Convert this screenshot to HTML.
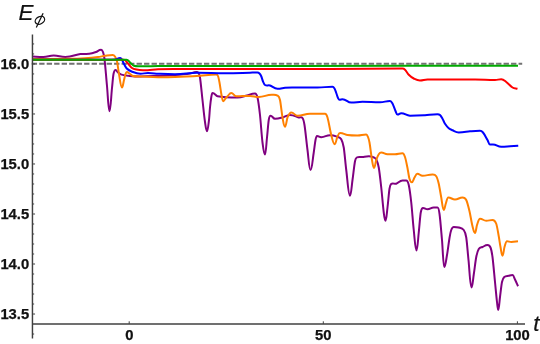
<!DOCTYPE html>
<html><head><meta charset="utf-8"><title>E_phi vs t</title>
<style>
html,body{margin:0;padding:0;background:#fff;}
body{width:540px;height:344px;overflow:hidden;position:relative;font-family:"Liberation Sans",sans-serif;}
svg{position:absolute;left:0;top:0;display:block;will-change:transform;}
text{font-family:"Liberation Sans",sans-serif;fill:#111;}
.tl{font-weight:bold;font-size:14.8px;stroke:#111;stroke-width:0.25px;}
.al{font-style:italic;font-size:22.4px;stroke:#111;stroke-width:0.2px;}
</style></head><body>
<svg width="540" height="344" viewBox="0 0 540 344">
<rect width="540" height="344" fill="#fff"/>
<line x1="31.7" y1="63.8" x2="522.2" y2="63.8" stroke="#727272" stroke-width="2" stroke-dasharray="5.35 2.14"/>
<path d="M32.50 56.40 C36.10 56.60 38.44 57.00 43.30 57.00 C47.98 57.00 49.02 55.50 53.70 55.50 C58.92 55.50 60.08 56.90 65.30 56.90 C72.09 56.90 75.37 54.74 80.40 54.10 C83.33 53.73 86.27 54.24 89.20 53.85 C91.47 53.54 93.73 52.77 96.00 52.00 C97.70 51.42 98.80 49.80 101.10 49.80 C101.95 49.80 102.37 50.30 103.00 52.00 C103.50 53.34 104.00 54.65 104.50 58.90 C105.33 65.98 106.17 77.28 107.00 86.00 C107.83 94.72 108.38 111.25 109.50 111.25 C110.62 111.25 111.17 95.76 112.00 88.00 C112.50 83.34 113.00 76.50 113.50 74.00 C114.20 70.50 114.66 70.00 115.60 70.00 C116.68 70.00 117.20 71.88 118.00 72.50 C119.17 73.41 120.33 74.26 121.50 74.60 C124.33 75.43 127.17 75.71 130.00 76.00 C133.33 76.34 135.50 76.50 140.00 76.50 C148.10 76.50 152.00 76.16 158.00 75.90 C163.67 75.66 169.33 75.42 175.00 75.00 C180.00 74.62 185.00 74.21 190.00 73.50 C192.08 73.21 193.44 72.00 196.25 72.00 C197.26 72.00 197.75 71.90 198.50 73.00 C199.00 73.73 199.50 74.12 200.00 77.50 C200.83 83.12 201.67 92.58 202.50 100.00 C203.33 107.42 204.17 116.21 205.00 122.00 C205.67 126.63 206.10 131.25 207.00 131.25 C207.90 131.25 208.33 125.28 209.00 120.00 C209.33 117.36 209.67 110.83 210.00 107.50 C210.43 103.17 210.87 99.51 211.30 97.00 C211.70 94.68 211.96 93.00 212.50 93.00 C214.75 93.00 215.83 95.95 217.50 96.25 C224.17 97.45 228.50 97.50 237.50 97.50 C241.78 97.50 243.83 96.22 247.00 95.50 C249.67 94.89 251.40 93.50 255.00 93.50 C256.12 93.50 256.67 93.92 257.50 97.50 C258.33 101.08 259.17 107.50 260.00 115.00 C260.83 122.50 261.67 135.92 262.50 142.50 C263.33 149.08 263.88 154.50 265.00 154.50 C265.90 154.50 266.33 143.63 267.00 137.50 C267.58 132.13 268.17 123.62 268.75 120.00 C269.33 116.38 269.71 115.75 270.50 115.75 C272.52 115.75 272.98 118.75 275.00 118.75 C278.38 118.75 280.00 118.12 282.50 117.50 C285.00 116.88 286.62 115.00 290.00 115.00 C293.94 115.00 295.83 116.80 298.75 117.50 C300.00 117.80 301.25 116.37 302.50 118.00 C303.17 118.87 303.83 120.73 304.50 125.00 C305.50 131.40 306.50 142.50 307.50 150.00 C308.50 157.50 309.15 170.00 310.50 170.00 C311.96 170.00 312.67 159.00 313.75 152.50 C314.33 149.00 314.92 142.96 315.50 140.00 C316.00 137.46 316.32 136.00 317.00 136.00 C318.91 136.00 319.34 137.20 321.25 137.20 C325.19 137.20 326.06 135.20 330.00 135.20 C333.60 135.20 335.33 136.04 338.00 137.00 C339.08 137.39 340.17 137.27 341.25 139.25 C342.08 140.77 342.92 142.38 343.75 147.50 C344.58 152.62 345.42 163.57 346.25 170.00 C347.50 179.65 348.31 195.75 350.00 195.75 C351.12 195.75 351.67 185.75 352.50 180.00 C353.33 174.25 354.17 165.66 355.00 161.25 C355.58 158.16 356.17 157.83 356.75 157.50 C358.67 156.41 360.58 157.20 362.50 157.00 C364.58 156.78 365.94 156.25 368.75 156.25 C371.11 156.25 372.25 156.74 374.00 157.50 C374.75 157.82 375.50 157.92 376.25 159.50 C377.08 161.25 377.92 162.83 378.75 167.50 C379.58 172.17 380.42 180.00 381.25 187.50 C382.08 195.00 382.92 205.98 383.75 212.50 C384.33 217.06 384.71 220.75 385.50 220.75 C386.40 220.75 386.83 212.83 387.50 207.50 C388.17 202.17 388.83 192.95 389.50 188.75 C390.08 185.08 390.67 184.33 391.25 183.90 C392.92 182.67 394.58 184.25 396.25 183.75 C398.33 183.12 399.69 180.50 402.50 180.50 C404.19 180.50 404.56 180.50 406.25 180.50 C407.38 180.50 407.92 181.33 408.75 185.00 C409.58 188.67 410.42 195.00 411.25 202.50 C412.08 210.00 412.92 222.38 413.75 230.00 C414.67 238.38 415.26 250.50 416.50 250.50 C417.51 250.50 418.00 239.21 418.75 232.50 C419.42 226.54 420.08 216.34 420.75 212.50 C421.50 208.18 421.99 208.00 423.00 208.00 C425.02 208.00 425.48 209.25 427.50 209.25 C430.31 209.25 430.94 207.50 433.75 207.50 C435.44 207.50 435.81 207.50 437.50 207.50 C438.40 207.50 438.83 208.94 439.50 213.75 C440.33 219.77 441.17 230.66 442.00 240.00 C442.75 248.41 443.24 267.00 444.25 267.00 C445.49 267.00 446.08 260.06 447.00 255.00 C447.83 250.40 448.67 242.90 449.50 238.00 C450.08 234.57 450.67 231.51 451.25 230.00 C452.08 227.84 452.62 227.00 453.75 227.00 C456.00 227.00 457.08 227.00 458.75 227.50 C460.42 228.00 462.08 227.78 463.75 230.00 C464.58 231.11 465.42 232.24 466.25 237.50 C467.00 242.24 467.75 252.86 468.50 260.00 C469.50 269.52 470.15 287.50 471.50 287.50 C472.51 287.50 473.00 279.32 473.75 274.50 C474.58 269.15 475.42 261.25 476.25 257.00 C477.08 252.75 477.92 250.33 478.75 249.00 C480.00 247.00 481.25 247.57 482.50 247.00 C484.17 246.24 485.25 245.00 487.50 245.00 C488.85 245.00 489.50 245.10 490.50 247.50 C491.17 249.10 491.83 251.89 492.50 257.00 C493.33 263.39 494.17 273.67 495.00 282.00 C495.67 288.67 496.33 296.26 497.00 302.00 C497.42 305.59 497.69 310.00 498.25 310.00 C499.04 310.00 499.42 301.36 500.00 297.00 C500.67 292.02 501.33 285.14 502.00 282.00 C502.75 278.47 503.50 277.69 504.25 277.00 C505.75 275.61 507.25 276.11 508.75 275.75 C510.00 275.45 510.81 275.00 512.50 275.00 C513.62 275.00 514.17 277.80 515.00 279.50 C516.00 281.55 517.00 284.00 518.00 286.25" fill="none" stroke="#800080" stroke-width="2" stroke-linejoin="round" stroke-linecap="butt"/>
<path d="M32.50 58.90 C45.00 58.87 57.50 58.97 70.00 58.80 C75.00 58.73 80.00 58.52 85.00 58.20 C89.33 57.92 93.67 57.52 98.00 57.00 C100.33 56.72 102.67 56.13 105.00 55.80 C107.57 55.43 109.23 54.90 112.70 54.90 C113.73 54.90 114.23 55.34 115.00 56.50 C115.67 57.51 116.33 58.48 117.00 61.40 C117.67 64.32 118.33 70.52 119.00 74.00 C120.00 79.22 120.65 87.50 122.00 87.50 C122.90 87.50 123.33 82.57 124.00 80.00 C124.50 78.07 125.00 75.45 125.50 74.00 C125.93 72.75 126.22 71.90 126.80 71.90 C128.01 71.90 128.60 72.90 129.50 73.50 C130.60 74.23 131.70 75.65 132.80 75.90 C136.17 76.65 139.53 76.33 142.90 76.50 C147.93 76.76 151.21 77.20 158.00 77.20 C165.65 77.20 169.33 77.20 175.00 77.00 C183.33 76.71 191.67 76.26 200.00 75.75 C205.42 75.42 208.94 74.50 216.25 74.50 C217.04 74.50 217.42 74.56 218.00 76.00 C218.50 77.23 219.00 79.79 219.50 82.50 C220.17 86.12 220.83 91.67 221.50 95.00 C222.08 97.92 222.46 101.25 223.25 101.25 C224.26 101.25 224.75 99.38 225.50 98.50 C226.17 97.72 226.83 96.89 227.50 96.25 C228.75 95.05 229.56 93.00 231.25 93.00 C233.50 93.00 234.00 96.25 236.25 96.25 C242.44 96.25 243.81 95.90 250.00 95.90 C253.91 95.90 254.78 97.00 258.70 97.00 C264.60 97.00 265.90 94.80 271.80 94.80 C274.37 94.80 275.60 94.40 277.50 95.60 C278.33 96.13 279.17 96.35 280.00 100.00 C280.83 103.65 281.67 113.04 282.50 117.50 C283.33 121.96 283.88 126.75 285.00 126.75 C286.12 126.75 286.67 119.40 287.50 117.50 C288.75 114.65 289.56 112.50 291.25 112.50 C294.06 112.50 294.69 115.75 297.50 115.75 C303.12 115.75 304.38 113.75 310.00 113.75 C316.75 113.75 318.25 113.75 325.00 113.75 C326.12 113.75 326.67 114.67 327.50 117.50 C328.75 121.75 330.00 130.36 331.25 135.00 C332.40 139.27 333.15 144.25 334.70 144.25 C335.87 144.25 336.43 138.84 337.30 137.00 C338.20 135.09 338.79 133.00 340.00 133.00 C343.38 133.00 345.00 134.64 347.50 135.00 C350.83 135.48 353.00 135.50 357.50 135.50 C361.44 135.50 362.31 134.50 366.25 134.50 C367.04 134.50 367.42 135.56 368.00 137.00 C368.50 138.23 369.00 139.62 369.50 142.50 C370.33 147.29 371.17 155.28 372.00 160.00 C372.67 163.78 373.10 168.00 374.00 168.00 C375.01 168.00 375.50 162.17 376.25 160.00 C377.08 157.59 377.92 155.50 378.75 154.25 C379.58 153.00 380.12 152.50 381.25 152.50 C384.06 152.50 384.69 154.25 387.50 154.25 C390.88 154.25 391.62 154.25 395.00 154.25 C398.38 154.25 399.12 153.25 402.50 153.25 C403.62 153.25 404.17 154.61 405.00 157.00 C405.77 159.20 406.53 163.29 407.30 167.00 C408.03 170.54 408.77 176.23 409.50 178.75 C410.25 181.33 410.74 182.30 411.75 182.30 C412.99 182.30 413.58 178.91 414.50 177.50 C415.43 176.06 416.04 173.75 417.30 173.75 C419.64 173.75 420.16 175.75 422.50 175.75 C427.00 175.75 428.00 174.50 432.50 174.50 C434.19 174.50 435.00 174.40 436.25 176.25 C437.08 177.48 437.92 180.21 438.75 183.75 C439.58 187.29 440.42 193.12 441.25 197.50 C442.08 201.88 442.62 210.00 443.75 210.00 C444.65 210.00 445.08 205.60 445.75 203.75 C446.58 201.44 447.12 197.50 448.25 197.50 C451.29 197.50 451.96 199.50 455.00 199.50 C458.38 199.50 459.12 197.50 462.50 197.50 C464.19 197.50 465.00 197.54 466.25 200.00 C467.33 202.13 468.42 206.70 469.50 211.25 C470.50 215.45 471.50 222.30 472.50 226.25 C473.33 229.55 473.88 233.00 475.00 233.00 C475.90 233.00 476.33 226.90 477.00 225.00 C478.00 222.15 478.65 218.75 480.00 218.75 C482.81 218.75 483.44 220.75 486.25 220.75 C489.06 220.75 489.69 220.00 492.50 220.00 C494.19 220.00 495.00 220.50 496.25 223.75 C497.08 225.92 497.92 231.69 498.75 236.25 C499.33 239.44 499.92 243.97 500.50 247.00 C501.17 250.47 501.60 255.75 502.50 255.75 C503.40 255.75 503.83 249.15 504.50 247.00 C505.33 244.31 505.88 241.25 507.00 241.25 C508.91 241.25 509.34 242.00 511.25 242.00 C514.29 242.00 515.75 241.50 518.00 241.25" fill="none" stroke="#ff8000" stroke-width="2" stroke-linejoin="round" stroke-linecap="butt"/>
<path d="M32.50 59.65 C55.00 59.65 69.62 59.65 100.00 59.65 C106.75 59.65 110.00 59.88 115.00 59.50 C116.73 59.37 117.86 58.10 120.20 58.10 C121.01 58.10 121.40 58.74 122.00 59.60 C122.47 60.27 122.93 61.80 123.40 62.70 C124.43 64.70 125.47 67.19 126.50 68.30 C128.20 70.12 129.90 70.83 131.60 71.50 C134.53 72.65 136.44 73.75 140.40 73.75 C143.82 73.75 144.58 73.00 148.00 73.00 C152.50 73.00 154.67 73.60 158.00 73.75 C163.67 74.01 167.35 74.25 175.00 74.25 C185.12 74.25 187.38 72.70 197.50 72.70 C209.88 72.70 212.62 73.25 225.00 73.25 C236.25 73.25 241.67 72.89 250.00 72.70 C252.50 72.64 254.12 72.50 257.50 72.50 C258.40 72.50 258.83 72.83 259.50 73.50 C260.08 74.08 260.67 74.92 261.25 76.25 C261.83 77.58 262.42 80.14 263.00 81.50 C263.67 83.06 264.33 84.62 265.00 85.00 C266.67 85.95 268.33 85.00 270.00 85.50 C272.50 86.25 274.12 88.75 277.50 88.75 C280.88 88.75 282.50 87.91 285.00 87.70 C287.50 87.49 289.12 87.50 292.50 87.50 C303.75 87.50 306.25 87.50 317.50 87.50 C324.25 87.50 325.75 86.75 332.50 86.75 C333.40 86.75 333.83 87.39 334.50 88.50 C335.08 89.47 335.67 91.42 336.25 93.00 C336.83 94.58 337.42 96.79 338.00 98.00 C338.50 99.04 338.82 99.75 339.50 99.75 C340.85 99.75 341.15 99.20 342.50 99.20 C346.44 99.20 347.31 102.60 351.25 102.60 C356.31 102.60 357.44 101.75 362.50 101.75 C370.38 101.75 372.12 102.25 380.00 102.25 C384.50 102.25 385.50 101.00 390.00 101.00 C391.12 101.00 391.67 101.98 392.50 103.50 C393.50 105.32 394.50 108.78 395.50 111.00 C396.17 112.48 396.60 114.60 397.50 114.60 C399.19 114.60 399.56 113.20 401.25 113.20 C405.19 113.20 406.06 115.70 410.00 115.70 C416.75 115.70 420.00 115.51 425.00 115.25 C429.17 115.03 431.88 114.25 437.50 114.25 C438.62 114.25 439.17 114.26 440.00 115.00 C440.83 115.74 441.67 117.24 442.50 118.70 C443.33 120.16 444.17 122.48 445.00 123.75 C446.25 125.66 447.50 127.17 448.75 128.25 C450.00 129.33 451.25 129.73 452.50 130.25 C454.58 131.11 455.94 132.40 458.75 132.40 C463.81 132.40 466.25 131.54 470.00 131.25 C473.33 130.99 475.50 130.75 480.00 130.75 C481.35 130.75 482.00 131.27 483.00 132.50 C484.50 134.35 486.00 137.43 487.50 140.00 C488.33 141.43 488.88 144.50 490.00 144.50 C491.35 144.50 491.65 144.50 493.00 144.50 C496.71 144.50 497.54 146.75 501.25 146.75 C505.19 146.75 507.08 146.42 510.00 146.25 C512.75 146.09 515.50 145.92 518.25 145.75" fill="none" stroke="#0000ff" stroke-width="2" stroke-linejoin="round" stroke-linecap="butt"/>
<path d="M32.50 59.65 C63.00 59.65 82.82 59.65 124.00 59.65 C125.71 59.65 126.53 61.96 127.80 63.30 C129.07 64.64 130.33 66.79 131.60 67.70 C133.27 68.89 134.93 69.23 136.60 69.60 C138.73 70.07 140.12 70.20 143.00 70.20 C149.75 70.20 153.00 69.39 158.00 69.20 C163.67 68.99 167.35 69.00 175.00 69.00 C208.75 69.00 216.25 69.00 250.00 69.00 C286.00 69.00 294.00 69.00 330.00 69.00 C362.62 69.00 369.88 68.60 402.50 68.60 C403.62 68.60 404.17 68.93 405.00 69.75 C406.25 70.98 407.50 73.50 408.75 74.75 C410.42 76.42 412.08 77.65 413.75 78.50 C415.83 79.56 417.19 80.50 420.00 80.50 C423.38 80.50 424.12 79.50 427.50 79.50 C437.62 79.50 439.88 79.60 450.00 79.60 C461.25 79.60 463.75 79.50 475.00 79.50 C484.00 79.50 486.00 80.00 495.00 80.00 C497.81 80.00 498.44 79.25 501.25 79.25 C503.50 79.25 504.58 80.78 506.25 82.00 C508.33 83.53 510.42 86.25 512.50 87.50 C514.17 88.50 515.83 88.33 517.50 88.75" fill="none" stroke="#ff0000" stroke-width="2" stroke-linejoin="round" stroke-linecap="butt"/>
<path d="M32.50 59.65 C63.83 59.65 84.20 59.65 126.50 59.65 C128.21 59.65 129.03 61.66 130.30 62.70 C131.53 63.71 132.77 65.36 134.00 65.80 C136.13 66.56 137.52 66.30 140.40 66.30 C148.32 66.30 152.13 66.01 158.00 66.00 C205.33 65.88 252.67 65.93 300.00 65.90 C372.67 65.86 445.33 65.83 518.00 65.80" fill="none" stroke="#00aa00" stroke-width="2" stroke-linejoin="round" stroke-linecap="butt"/>
<line x1="32.45" y1="34.6" x2="32.45" y2="338.6" stroke="#404040" stroke-width="1.45"/>
<line x1="32.45" y1="323.9" x2="525" y2="323.9" stroke="#404040" stroke-width="1.45"/>
<line x1="32.45" y1="334.03" x2="34.15" y2="334.03" stroke="#404040" stroke-width="1"/>
<line x1="32.45" y1="314.02" x2="35.05" y2="314.02" stroke="#404040" stroke-width="1"/>
<line x1="32.45" y1="304.02" x2="34.15" y2="304.02" stroke="#404040" stroke-width="1"/>
<line x1="32.45" y1="294.02" x2="34.15" y2="294.02" stroke="#404040" stroke-width="1"/>
<line x1="32.45" y1="284.02" x2="34.15" y2="284.02" stroke="#404040" stroke-width="1"/>
<line x1="32.45" y1="274.01" x2="34.15" y2="274.01" stroke="#404040" stroke-width="1"/>
<line x1="32.45" y1="264.01" x2="35.05" y2="264.01" stroke="#404040" stroke-width="1"/>
<line x1="32.45" y1="254.01" x2="34.15" y2="254.01" stroke="#404040" stroke-width="1"/>
<line x1="32.45" y1="244.00" x2="34.15" y2="244.00" stroke="#404040" stroke-width="1"/>
<line x1="32.45" y1="234.00" x2="34.15" y2="234.00" stroke="#404040" stroke-width="1"/>
<line x1="32.45" y1="224.00" x2="34.15" y2="224.00" stroke="#404040" stroke-width="1"/>
<line x1="32.45" y1="214.00" x2="35.05" y2="214.00" stroke="#404040" stroke-width="1"/>
<line x1="32.45" y1="203.99" x2="34.15" y2="203.99" stroke="#404040" stroke-width="1"/>
<line x1="32.45" y1="193.99" x2="34.15" y2="193.99" stroke="#404040" stroke-width="1"/>
<line x1="32.45" y1="183.99" x2="34.15" y2="183.99" stroke="#404040" stroke-width="1"/>
<line x1="32.45" y1="173.98" x2="34.15" y2="173.98" stroke="#404040" stroke-width="1"/>
<line x1="32.45" y1="163.98" x2="35.05" y2="163.98" stroke="#404040" stroke-width="1"/>
<line x1="32.45" y1="153.98" x2="34.15" y2="153.98" stroke="#404040" stroke-width="1"/>
<line x1="32.45" y1="143.97" x2="34.15" y2="143.97" stroke="#404040" stroke-width="1"/>
<line x1="32.45" y1="133.97" x2="34.15" y2="133.97" stroke="#404040" stroke-width="1"/>
<line x1="32.45" y1="123.97" x2="34.15" y2="123.97" stroke="#404040" stroke-width="1"/>
<line x1="32.45" y1="113.97" x2="35.05" y2="113.97" stroke="#404040" stroke-width="1"/>
<line x1="32.45" y1="103.96" x2="34.15" y2="103.96" stroke="#404040" stroke-width="1"/>
<line x1="32.45" y1="93.96" x2="34.15" y2="93.96" stroke="#404040" stroke-width="1"/>
<line x1="32.45" y1="83.96" x2="34.15" y2="83.96" stroke="#404040" stroke-width="1"/>
<line x1="32.45" y1="73.95" x2="34.15" y2="73.95" stroke="#404040" stroke-width="1"/>
<line x1="32.45" y1="63.95" x2="35.05" y2="63.95" stroke="#404040" stroke-width="1"/>
<line x1="32.45" y1="53.95" x2="34.15" y2="53.95" stroke="#404040" stroke-width="1"/>
<line x1="32.45" y1="43.94" x2="34.15" y2="43.94" stroke="#404040" stroke-width="1"/>
<line x1="129.20" y1="323.9" x2="129.20" y2="321.30" stroke="#404040" stroke-width="1"/>
<line x1="323.30" y1="323.9" x2="323.30" y2="321.30" stroke="#404040" stroke-width="1"/>
<line x1="517.40" y1="323.9" x2="517.40" y2="321.30" stroke="#404040" stroke-width="1"/>
<g class="tl" text-anchor="end">
<text x="29.2" y="69.10">16.0</text>
<text x="29.2" y="119.12">15.5</text>
<text x="29.2" y="169.13">15.0</text>
<text x="29.2" y="219.15">14.5</text>
<text x="29.2" y="269.15">14.0</text>
<text x="29.2" y="319.20">13.5</text>
</g>
<g class="tl" text-anchor="middle">
<text x="129.3" y="340">0</text>
<text x="323.35" y="340">50</text>
<text x="517.5" y="340">100</text>
</g>
<text class="al" x="18.5" y="20.2">E</text>
<g fill="none" stroke="#111" stroke-width="1.25" stroke-linecap="butt"><ellipse cx="39.9" cy="20.3" rx="5.0" ry="3.6" transform="rotate(-28 39.9 20.3)"/><line x1="43.1" y1="13.2" x2="36.3" y2="27.6"/></g>
<text class="al" x="533.3" y="331.3">t</text>
</svg>
</body></html>
